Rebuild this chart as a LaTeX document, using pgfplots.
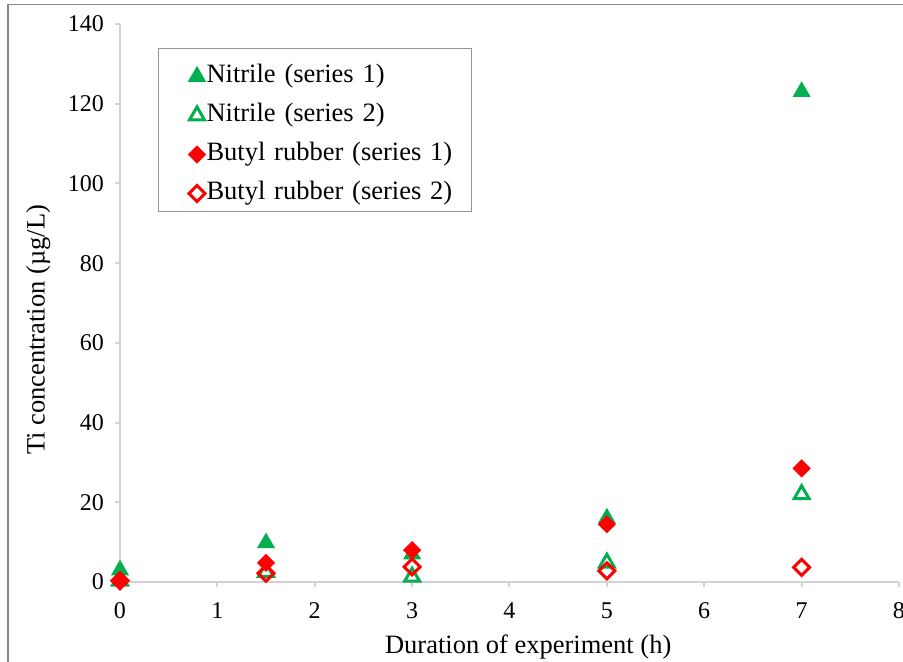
\documentclass[border=0pt]{standalone}
\usepackage{fontspec}
\setmainfont{Liberation Serif}
\usepackage{pgfplots}
\pgfplotsset{compat=1.18}

\definecolor{nitrile}{RGB}{0,176,80}
\definecolor{butyl}{RGB}{255,0,0}
\definecolor{axisgray}{RGB}{210,210,210}
\definecolor{framegray}{RGB}{134,134,134}
\definecolor{legendgray}{RGB}{150,150,150}

\begin{document}
\begin{tikzpicture}
% fixed page area; the outer frame runs past its right and bottom edges
\useasboundingbox (-60pt,-39.5pt) rectangle (391.5pt,291pt);
\begin{axis}[
  scale only axis,
  width=389.5pt, height=279pt,
  at={(0,0)}, anchor=south west,
  xmin=0, xmax=8, ymin=0, ymax=140,
  xtick={0,1,...,8}, ytick={0,20,...,140},
  axis x line*=bottom, axis y line*=left,
  axis line style={draw=axisgray, line width=1pt},
  tick style={draw=axisgray, line width=1pt},
  tick align=outside, major tick length=2.5pt,
  /pgf/number format/assume math mode=true,
  tick label style={font=\fontsize{12}{14}\selectfont},
  xticklabel style={yshift=-4.25pt},
  yticklabel style={xshift=-2pt},
  label style={font=\fontsize{13.25}{16}\selectfont},
  xlabel={Duration of experiment (h)},
  ylabel={Ti concentration (µg/L)},
  xlabel style={at={(axis description cs:0.524,-0.117)}, anchor=center},
  ylabel style={at={(axis description cs:-0.105,0.452)}, anchor=center},
  legend cell align=left,
  legend style={
    at={(axis description cs:0.0488,0.957)}, anchor=north west,
    draw=legendgray, line width=0.5pt,
    font=\fontsize{13.25}{16}\selectfont,
    inner xsep=0pt, inner ysep=1.75pt,
    nodes={inner sep=0pt, text height=15.25pt, text depth=4.25pt,
           text width=132.5pt, align=left},
  },
  legend image code/.code={
    \path (-19pt,0) (4.5pt,0);
    \draw plot coordinates {(0pt,-2.5pt)};
  },
]
\addplot[only marks, mark=triangle*, mark size=4.8pt,
  draw=nitrile, fill=nitrile]
  coordinates {(0,3) (1.5,9.8) (3,7) (5,16) (7,123)};
\addlegendentry{Nitrile (series 1)}

\addplot[only marks, mark=triangle, mark size=4.3pt,
  draw=nitrile, mark options={line width=1.5pt, draw=nitrile}]
  coordinates {(0,0.3) (1.5,2.5) (3,1.3) (5,4.8) (7,22)};
\addlegendentry{Nitrile (series 2)}

\addplot[only marks, mark=square*, mark size=3pt,
  draw=butyl, fill=butyl, mark options={rotate=45}]
  coordinates {(0,0.5) (1.5,4.8) (3,8) (5,14.5) (7,28.5)};
\addlegendentry{Butyl rubber (series 1)}

\addplot[only marks, mark=square, mark size=2.83pt,
  draw=butyl, mark options={rotate=45, line width=1.5pt, draw=butyl}]
  coordinates {(0,0.3) (1.5,2.2) (3,3.8) (5,2.8) (7,3.7)};
\addlegendentry{Butyl rubber (series 2)}
\end{axis}
% outer chart frame (left and top edges visible)
\draw[framegray, line width=0.75pt] (-56pt,-45pt) -- (-56pt,288.75pt) -- (400pt,288.75pt);
\end{tikzpicture}
\end{document}
